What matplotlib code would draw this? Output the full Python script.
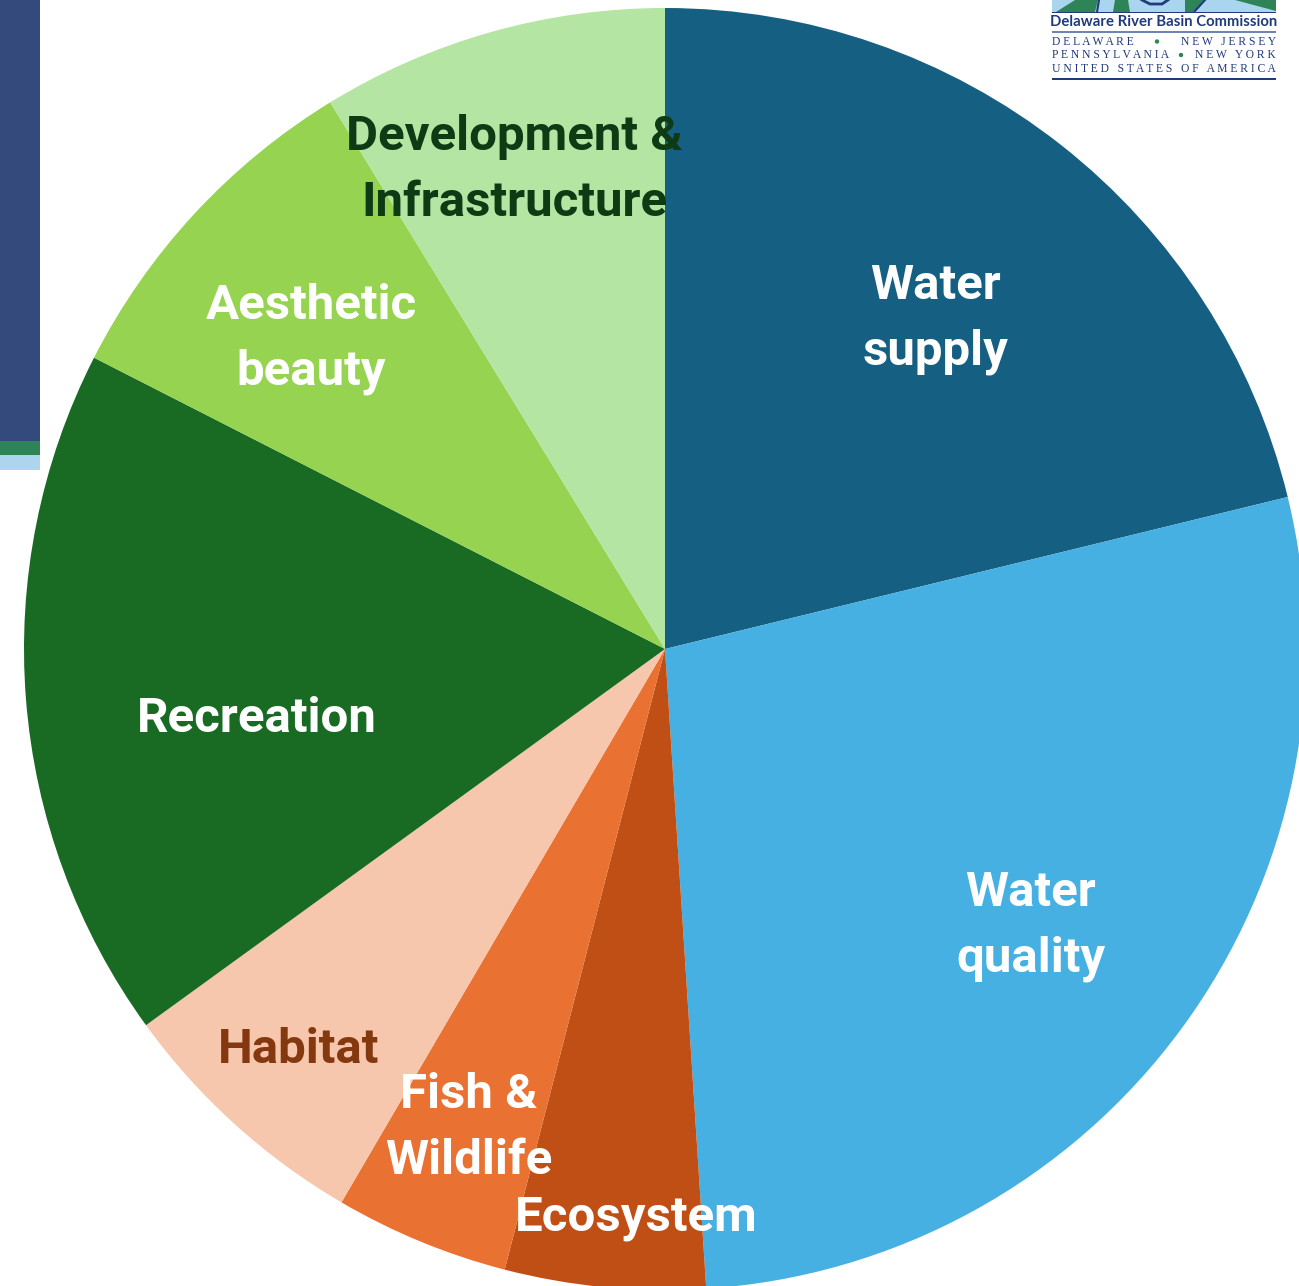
import matplotlib
matplotlib.use('Agg')
import matplotlib.pyplot as plt
from matplotlib.patches import Rectangle, Polygon, Circle

W, H = 1299, 1286

# share of each topic, clockwise from the top
topics = ['Water supply', 'Water quality', 'Ecosystem', 'Fish & Wildlife',
          'Habitat', 'Recreation', 'Aesthetic beauty', 'Development & Infrastructure']
shares = [21.2, 27.8, 5.05, 4.4, 6.6, 17.5, 8.75, 8.75]
colors = ['#156082', '#45B0E1', '#BF4F14', '#E97132', '#F6C6AD', '#196B24', '#95D351', '#B4E5A2']

plt.rcParams['font.family'] = ['Roboto', 'DejaVu Sans']

fig = plt.figure(figsize=(W / 100, H / 100), dpi=100)
ax = fig.add_axes([0, 0, 1, 1])
ax.set_xlim(0, W)
ax.set_ylim(H, 0)
ax.axis('off')


def rect(x0, y0, x1, y1, color):
    ax.add_patch(Rectangle((x0, y0), x1 - x0, y1 - y0, facecolor=color, edgecolor='none'))


# slide band on the left
rect(0, 0, 40, 441, '#34497C')
rect(0, 441, 40, 455, '#2E8457')
rect(0, 455, 40, 470, '#AED5EE')

# y axis is flipped, so a counterclockwise pie reads clockwise here
ax.pie(shares, colors=colors, startangle=-90, counterclock=True, radius=641,
       center=(665, 649), frame=False, wedgeprops={'linewidth': 0})
ax.set_xlim(0, W)
ax.set_ylim(H, 0)
ax.set_aspect('auto')

labels = [
    ('Water\nsupply', 936, 319, 'white'),
    ('Water\nquality', 1031, 926, 'white'),
    ('Ecosystem', 636, 1218, 'white'),
    ('Fish &\nWildlife', 469, 1128, 'white'),
    ('Habitat', 299, 1050, '#84380F'),
    ('Recreation', 257, 719, 'white'),
    ('Aesthetic\nbeauty', 311, 339, 'white'),
    ('Development &\nInfrastructure', 514, 170, '#0E3A14'),
]
for txt, x, y, col in labels:
    ax.text(x, y, txt, color=col, fontsize=35.5, fontweight='bold', ha='center',
            va='center', linespacing=1.55)

# commission mark, top right
navy = '#1F3A7D'
green = '#2E8457'
rect(1052, 0, 1276, 12, '#A9D6EE')
ax.add_patch(Polygon([(1075, 0), (1098, 0), (1095, 12), (1056, 12)], facecolor=green, edgecolor='none'))
ax.add_patch(Polygon([(1115, 0), (1128, 0), (1130, 12), (1113, 12)], facecolor=green, edgecolor='none'))
ax.add_patch(Polygon([(1185, 0), (1204, 0), (1194, 12), (1185, 12)], facecolor=green, edgecolor='none'))
ax.add_patch(Polygon([(1235, 0), (1276, 0), (1276, 11)], facecolor=green, edgecolor='none'))
ax.plot([1099, 1097], [0, 12], color=navy, lw=1.5)
ax.plot([1205, 1195], [0, 11], color=navy, lw=1.5)
ax.plot([1142, 1150, 1162, 1168], [0, 4, 4, 0], color=navy, lw=2)
rect(1052, 12, 1276, 13, navy)
rect(1052, 31, 1276, 32.5, '#6F83B5')
rect(1052, 78, 1276, 79.5, navy)
ax.text(1164, 22, 'Delaware River Basin Commission', color=navy, fontsize=10.7,
        family='Lato', fontweight='bold', ha='center', va='center')
small = dict(color=navy, fontsize=8.35, family='Liberation Serif', va='center')
ax.text(1052, 42, 'D E L A W A R E', ha='left', **small)
ax.text(1276, 42, 'N E W   J E R S E Y', ha='right', **small)
ax.text(1052, 55.5, 'P E N N S Y L V A N I A', ha='left', **small)
ax.text(1276, 55.5, 'N E W   Y O R K', ha='right', **small)
ax.text(1164, 69, 'U N I T E D   S T A T E S   O F   A M E R I C A', ha='center', **small)
ax.add_patch(Circle((1157, 41.5), 2.2, facecolor=green, edgecolor='none'))
ax.add_patch(Circle((1181, 55), 2.2, facecolor=green, edgecolor='none'))

fig.savefig('out.png', dpi=100)
